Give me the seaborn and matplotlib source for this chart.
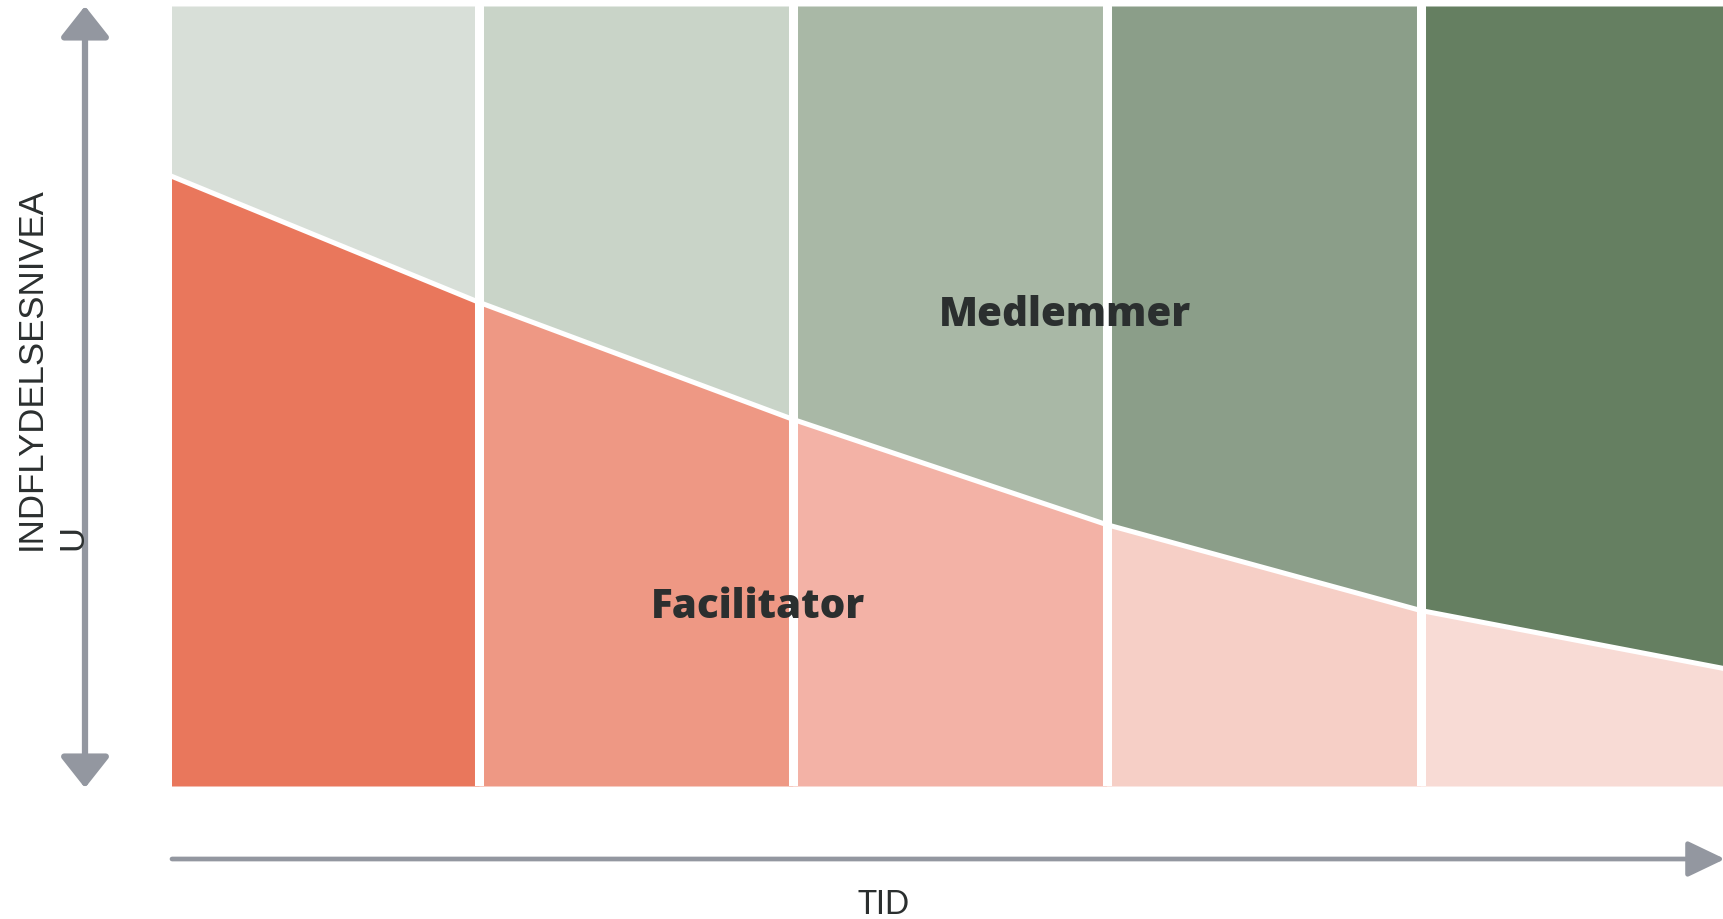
# Influence over time: facilitator vs members, stepped shading per phase

import numpy as np
import seaborn as sns
from matplotlib import pyplot as plt

# Phase boundaries along time axis and facilitator share (0-100) at each edge
phase_edges = [0, 1, 2, 3, 4, 5]
facilitator_share = [78.5, 62.0, 47.0, 33.5, 22.5, 14.8]

member_colors = ['#d8dfd8', '#c9d4c8', '#a9b8a6', '#8b9e89', '#657f61']
facilitator_colors = ['#e9775c', '#ee9884', '#f3b2a6', '#f6cfc6', '#f8dbd5']

member_label = 'Medlemmer'
facilitator_label = 'Facilitator'
x_label = 'TID'
y_label = 'INDFLYDELSESNIVEA\nU'

sns.set_theme(style='white')
plt.rcParams['font.family'] = ['Lato', 'DejaVu Sans']

W, H = 1723, 920
fig = plt.figure(figsize=(W / 100, H / 100), dpi=100)
ax = fig.add_axes([172 / W, 133 / H, 1551 / W, 780 / H])

edges = np.array(phase_edges, dtype=float)
share = np.array(facilitator_share)

# Fill each phase: facilitator below the curve, members above
for i in range(len(edges) - 1):
    xs = edges[i:i + 2]
    ys = share[i:i + 2]
    ax.fill_between(xs, 0, ys, color=facilitator_colors[i], linewidth=0)
    ax.fill_between(xs, ys, 100, color=member_colors[i], linewidth=0)

# White boundary between the two groups
sns.lineplot(x=edges, y=share, ax=ax, color='white', linewidth=3.6)

# White separators between phases
for e in edges[1:-1]:
    ax.axvline(e, color='white', linewidth=6.5)

# first phase starts slightly in, last phase is cut by the right edge
ax.set_xlim(0.021, 4.963)
ax.set_ylim(0, 100)
ax.axis('off')

ax.text(2.866, 60.5, member_label, fontsize=29, fontweight='heavy',
        color='#2b2f2f', ha='center', va='center', family=['Open Sans', 'DejaVu Sans'])
ax.text(1.887, 23, facilitator_label, fontsize=29, fontweight='heavy',
        color='#2b2f2f', ha='center', va='center', family=['Open Sans', 'DejaVu Sans'])

grey = '#9397a0'
# Vertical double arrow (influence)
ax.annotate('', xy=(85, H - 7), xytext=(85, H - 789), xycoords='figure pixels',
            textcoords='figure pixels',
            arrowprops=dict(arrowstyle='<|-|>,head_length=0.19,head_width=0.15',
                            mutation_scale=100, color=grey, linewidth=4.5,
                            shrinkA=0, shrinkB=0), annotation_clip=False)
# Horizontal arrow (time)
ax.annotate('', xy=(1725, 60), xytext=(172, 60), xycoords='figure pixels',
            textcoords='figure pixels',
            arrowprops=dict(arrowstyle='-|>,head_length=0.23,head_width=0.11',
                            mutation_scale=100, color=grey, linewidth=3.4,
                            shrinkA=0, shrinkB=0), annotation_clip=False)

fig.text(884 / W, 15 / H, x_label, fontsize=23, color='#2b2f2f',
         ha='center', va='center')
fig.text(52 / W, 370 / H, y_label, fontsize=25, color='#2b2f2f',
         rotation=90, ha='center', va='bottom', multialignment='left',
         linespacing=1.35, family=['Liberation Sans', 'DejaVu Sans'])

fig.savefig('out.png', dpi=100)
